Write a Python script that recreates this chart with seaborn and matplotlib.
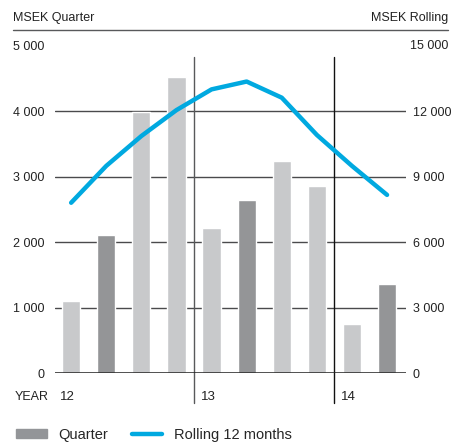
import seaborn as sns
import pandas as pd
import matplotlib.pyplot as plt
from matplotlib import patches as mpatches
from matplotlib.lines import Line2D
from matplotlib.transforms import blended_transform_factory

# Data
quarters = ['Q1 12', 'Q2 12', 'Q3 12', 'Q4 12',
            'Q1 13', 'Q2 13', 'Q3 13', 'Q4 13',
            'Q1 14', 'Q2 14']
quarter_msek = [1100, 2110, 3990, 4530, 2220, 2640, 3240, 2860, 750, 1360]
rolling_msek = [7810, 9500, 10870, 12060, 13010, 13370, 12630, 10920, 9500, 8170]
bar_kind = ['light', 'dark', 'light', 'light',
            'light', 'dark', 'light', 'light',
            'light', 'dark']
years = ['12', '13', '14']
year_start = [-0.5, 3.5, 7.5]
left_ticks = [0, 1000, 2000, 3000, 4000, 5000]
right_ticks = [0, 3000, 6000, 9000, 12000, 15000]

LIGHT = '#c8c9cb'
DARK = '#939598'
BLUE = '#00a9e0'
TXT = '#222222'


def fmt(v):
    return f"{v:,}".replace(',', ' ')


def main():
    sns.set_theme(style='white')
    plt.rcParams['font.family'] = ['Liberation Sans', 'DejaVu Sans']

    df = pd.DataFrame({'quarter': quarters, 'msek': quarter_msek,
                       'kind': bar_kind, 'rolling': rolling_msek})
    df['pos'] = range(len(df))

    f = plt.figure(figsize=(4.56, 4.43), dpi=100)
    ax = f.add_axes([55 / 456, 70 / 443, 351 / 456, 327 / 443])

    # gridlines behind the bars
    for t in left_ticks[1:-1]:
        ax.axhline(t, color='#4a4a4c', lw=1, zorder=0)
    ax.axhline(0, color='#222222', lw=1.1, zorder=3)

    sns.barplot(data=df, x='quarter', y='msek', hue='kind',
                palette={'light': LIGHT, 'dark': DARK}, dodge=False,
                width=0.52, legend=False, ax=ax, zorder=2)
    ax.set_xlim(-0.46, 9.54)
    ax.set_ylim(0, 5000)
    ax.set_yticks(left_ticks)
    ax.set_yticklabels([fmt(t) for t in left_ticks])
    ax.set_xticks([])
    ax.set(xlabel='', ylabel='')
    for s in ax.spines.values():
        s.set_visible(False)
    ax.tick_params(axis='y', length=0, pad=7.5, labelsize=9, colors=TXT)

    ax2 = ax.twinx()
    sns.lineplot(data=df, x='pos', y='rolling', color=BLUE, lw=3.2,
                 solid_capstyle='round', ax=ax2, zorder=4)
    ax2.set_ylim(0, 15000)
    ax2.set_yticks(right_ticks[:-1])
    ax2.set_yticklabels([fmt(t) for t in right_ticks[:-1]])
    ax2.set(xlabel='', ylabel='')
    for s in ax2.spines.values():
        s.set_visible(False)
    ax2.tick_params(axis='y', length=0, pad=5, labelsize=9, colors=TXT)
    ax2.set_xlim(-0.46, 9.54)
    tr = blended_transform_factory(f.transFigure, ax2.transData)
    ax2.text(448 / 456, right_ticks[-1], fmt(right_ticks[-1]), transform=tr,
             ha='right', va='center', fontsize=9, color=TXT)

    # year separators and labels
    for i, (yr, x0) in enumerate(zip(years, year_start)):
        if i > 0:
            ax.axvline(x0, ymin=-0.092, ymax=0.966, clip_on=False,
                       color='#58595b' if i == 1 else '#111111', lw=1, zorder=1)
        ax.text(x0 + 0.19, -0.073, yr, transform=ax.get_xaxis_transform(),
                ha='left', va='center', fontsize=9.5, color=TXT)
    f.text(15 / 456, 1 - 397 / 443, 'YEAR', ha='left', va='center',
           fontsize=9, color=TXT)

    # header
    f.text(13 / 456, 1 - 18 / 443, 'MSEK Quarter', ha='left', va='center',
           fontsize=9, color=TXT)
    f.text(448 / 456, 1 - 18 / 443, 'MSEK Rolling', ha='right', va='center',
           fontsize=9, color=TXT)
    f.add_artist(Line2D([13 / 456, 448 / 456], [1 - 30 / 443, 1 - 30 / 443],
                        transform=f.transFigure, color='#58595b', lw=1))

    # legend
    handles = [mpatches.Patch(color=DARK, label='Quarter'),
               Line2D([], [], color=BLUE, lw=3.2, solid_capstyle='round',
                      label='Rolling 12 months')]
    f.legend(handles=handles, loc='lower left', bbox_to_anchor=(15 / 456, 0.0),
             ncol=2, frameon=False, fontsize=10.5, handlelength=2.1,
             handleheight=0.6, handletextpad=0.8, columnspacing=1.6,
             borderpad=0.1, borderaxespad=0)

    f.savefig('out.png', dpi=100)


if __name__ == "__main__":
    main()
